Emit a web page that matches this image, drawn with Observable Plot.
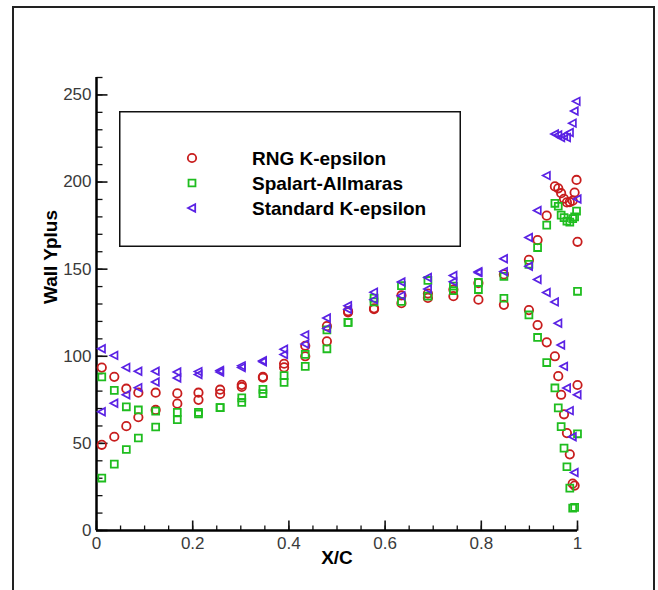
<!DOCTYPE html>
<html><head><meta charset="utf-8">
<script src="https://cdn.jsdelivr.net/npm/d3@7"></script>
<script src="https://cdn.jsdelivr.net/npm/@observablehq/plot@0.6"></script>
<style>
html,body{margin:0;padding:0;background:#fff;}
#wrap{position:relative;width:658px;height:590px;overflow:hidden;font-family:"Liberation Sans",Arial,sans-serif;}
#chart{position:absolute;left:0;top:0;}
#frame{position:absolute;left:12px;top:6px;width:643px;height:600px;border:2px solid #222;border-bottom:none;box-sizing:border-box;pointer-events:none;}
#legend{position:absolute;left:119px;top:111px;}
</style></head><body>
<div id="wrap"><div id="chart"></div><div id="frame"></div><div id="legend"></div></div>
<script>
// ---- data ----
const seriesNames = ["RNG K-epsilon", "Spalart-Allmaras", "Standard K-epsilon"];
const seriesColors = ["#c81d1d", "#1fbd1f", "#5a22e4"];

const stationX = [0.011, 0.037, 0.062, 0.087, 0.123, 0.168, 0.212, 0.257, 0.302, 0.346, 0.390, 0.434, 0.479, 0.523, 0.577, 0.634, 0.689, 0.742, 0.794, 0.847, 0.899, 0.917, 0.936, 0.953, 0.960, 0.966, 0.972, 0.978, 0.984, 0.990, 0.994];
const trailingX = [0.998, 1, 1];

const rngA = [93.5, 88.2, 81.4, 79.1, 79.1, 78.7, 79.1, 80.8, 83.6, 88.2, 95.7, 106.0, 117.3, 125.9, 127.5, 134.9, 136.0, 134.5, 132.5, 129.5, 126.5, 117.9, 108.0, 100.0, 88.6, 77.9, 66.7, 55.9, 43.7, 26.9, 25.8];
const rngB = [49.2, 53.8, 59.9, 65.0, 69.2, 72.8, 75.0, 78.4, 82.4, 87.7, 93.6, 100.0, 108.6, 125.2, 127.0, 130.5, 133.5, 138.3, 142.0, 147.0, 155.3, 166.7, 180.7, 197.5, 196.4, 193.6, 190.4, 188.3, 188.5, 189.3, 194.0];
const rngTE = [201.2, 165.7, 83.5];

const saA = [88.2, 80.4, 71.0, 69.2, 68.5, 67.8, 67.8, 70.5, 76.1, 81.0, 88.9, 101.1, 115.1, 119.4, 133.4, 140.5, 143.5, 140.3, 142.4, 145.9, 152.8, 162.4, 175.3, 187.8, 186.1, 181.0, 179.6, 177.5, 177.0, 179.0, 180.0];
const saB = [30.1, 38.1, 46.5, 53.1, 59.4, 63.6, 66.9, 70.5, 73.5, 78.6, 85.0, 94.2, 104.3, 119.4, 131.2, 131.5, 134.5, 137.7, 138.3, 133.3, 123.7, 110.8, 96.4, 81.8, 70.4, 59.6, 47.3, 36.6, 24.3, 12.9, 13.3];
const saTE = [183.3, 137.3, 55.5];

const skeA = [104.3, 100.5, 93.6, 91.4, 91.4, 91.0, 91.2, 91.8, 94.5, 97.4, 104.0, 112.3, 122.0, 129.0, 136.8, 142.6, 145.2, 146.4, 148.5, 156.0, 168.2, 183.7, 203.7, 227.6, 227.0, 225.5, 226.5, 225.5, 228.4, 233.8, 240.8];
const skeB = [68.2, 73.0, 77.9, 82.0, 85.2, 87.5, 89.5, 91.0, 93.5, 96.8, 101.0, 107.0, 116.0, 127.0, 132.5, 134.8, 138.6, 142.8, 148.0, 148.6, 151.7, 144.1, 136.6, 131.2, 119.0, 106.5, 94.2, 81.8, 68.8, 53.8, 33.3];
const skeTE = [246.3, 190.3, 77.9];

const xMajor = [0, 0.2, 0.4, 0.6, 0.8, 1];
const xMinor = d3.range(0, 21).map(i => i / 20);
const yMajor = [0, 50, 100, 150, 200, 250];
const yMinor = d3.range(0, 27).map(i => i * 10);

// ---- build ----
const pts = (xs, ys) => xs.map((x, i) => ({x, y: ys[i]}));
const rngData = [...pts(stationX, rngA), ...pts(stationX, rngB), ...pts(trailingX, rngTE)];
const saData = [...pts(stationX, saA), ...pts(stationX, saB), ...pts(trailingX, saTE)];
const skeData = [...pts(stationX, skeA), ...pts(stationX, skeB), ...pts(trailingX, skeTE)];

const leftTriangle = {draw(ctx, size) {
  const r = Math.sqrt(size / Math.PI);
  ctx.moveTo(-r, 0); ctx.lineTo(r * 0.8, -r * 0.95); ctx.lineTo(r * 0.8, r * 0.95); ctx.closePath();
}};
const upTick = len => ({draw(ctx) { ctx.moveTo(0, 0); ctx.lineTo(0, -len); }});
const rightTick = len => ({draw(ctx) { ctx.moveTo(0, 0); ctx.lineTo(len, 0); }});

const chart = Plot.plot({
  width: 658, height: 590,
  marginLeft: 96, marginRight: 81, marginTop: 77, marginBottom: 60,
  style: {fontFamily: '"Liberation Sans", Arial, sans-serif', background: "transparent"},
  x: {domain: [0, 1]},
  y: {domain: [0, 260]},
  marks: [
    Plot.dot(xMinor, {x: d => d, frameAnchor: "bottom", symbol: upTick(5), stroke: "#111", strokeWidth: 1.3, fill: "none"}),
    Plot.dot(xMajor, {x: d => d, frameAnchor: "bottom", symbol: upTick(10), stroke: "#111", strokeWidth: 1.6, fill: "none"}),
    Plot.dot(yMinor, {y: d => d, frameAnchor: "left", symbol: rightTick(6), stroke: "#111", strokeWidth: 1.3, fill: "none"}),
    Plot.dot(yMajor, {y: d => d, frameAnchor: "left", symbol: rightTick(11), stroke: "#111", strokeWidth: 1.6, fill: "none"}),
    Plot.ruleY([0], {stroke: "#000", strokeWidth: 2.5}),
    Plot.ruleX([0], {stroke: "#000", strokeWidth: 2.5}),
    Plot.axisX({ticks: xMajor, tickSize: 0, tickPadding: 6, tickFormat: d => String(d), fontSize: 17, color: "#3a3a3a", label: null}),
    Plot.axisY({ticks: yMajor, tickSize: 0, tickPadding: 5, tickFormat: d => String(d), fontSize: 17, color: "#3a3a3a", label: null}),
    Plot.text(["X/C"], {text: d => d, frameAnchor: "bottom", dy: 33, fontSize: 19, fontWeight: "bold", fill: "#000"}),
    Plot.text(["Wall Yplus"], {text: d => d, frameAnchor: "left", dx: -46, rotate: -90, fontSize: 19, fontWeight: "bold", fill: "#000"}),
    Plot.dot(rngData, {x: "x", y: "y", symbol: "circle", r: 4.2, stroke: seriesColors[0], strokeWidth: 1.8, fill: "none"}),
    Plot.dot(saData, {x: "x", y: "y", symbol: "square", r: 3.9, stroke: seriesColors[1], strokeWidth: 1.8, fill: "none"}),
    Plot.dot(skeData, {x: "x", y: "y", symbol: leftTriangle, r: 4.0, stroke: seriesColors[2], strokeWidth: 1.7, fill: "none"})
  ]
});
document.getElementById("chart").appendChild(chart);

// ---- legend ----
const lw = 342, lh = 136;
const lsvg = d3.select("#legend").append("svg").attr("width", lw).attr("height", lh)
  .style("font-family", '"Liberation Sans", Arial, sans-serif');
lsvg.append("rect").attr("x", 0.75).attr("y", 0.75).attr("width", lw - 1.5).attr("height", lh - 1.5)
  .attr("fill", "#fff").attr("stroke", "#111").attr("stroke-width", 1.5);
const legendSymbols = [
  d3.symbol(d3.symbolCircle, Math.PI * 4.2 * 4.2),
  d3.symbol(d3.symbolSquare, Math.PI * 3.9 * 3.9),
  d3.symbol(leftTriangle, Math.PI * 4 * 4)
];
seriesNames.forEach((name, i) => {
  const g = lsvg.append("g").attr("transform", `translate(0,${47 + i * 25})`);
  g.append("path").attr("d", legendSymbols[i]()).attr("transform", "translate(73,0)")
    .attr("fill", "none").attr("stroke", seriesColors[i]).attr("stroke-width", 1.8);
  g.append("text").attr("x", 133).attr("y", 0).attr("dy", "0.35em")
    .attr("font-size", 19).attr("font-weight", "bold").attr("fill", "#000").text(name);
});
</script>
</body></html>
